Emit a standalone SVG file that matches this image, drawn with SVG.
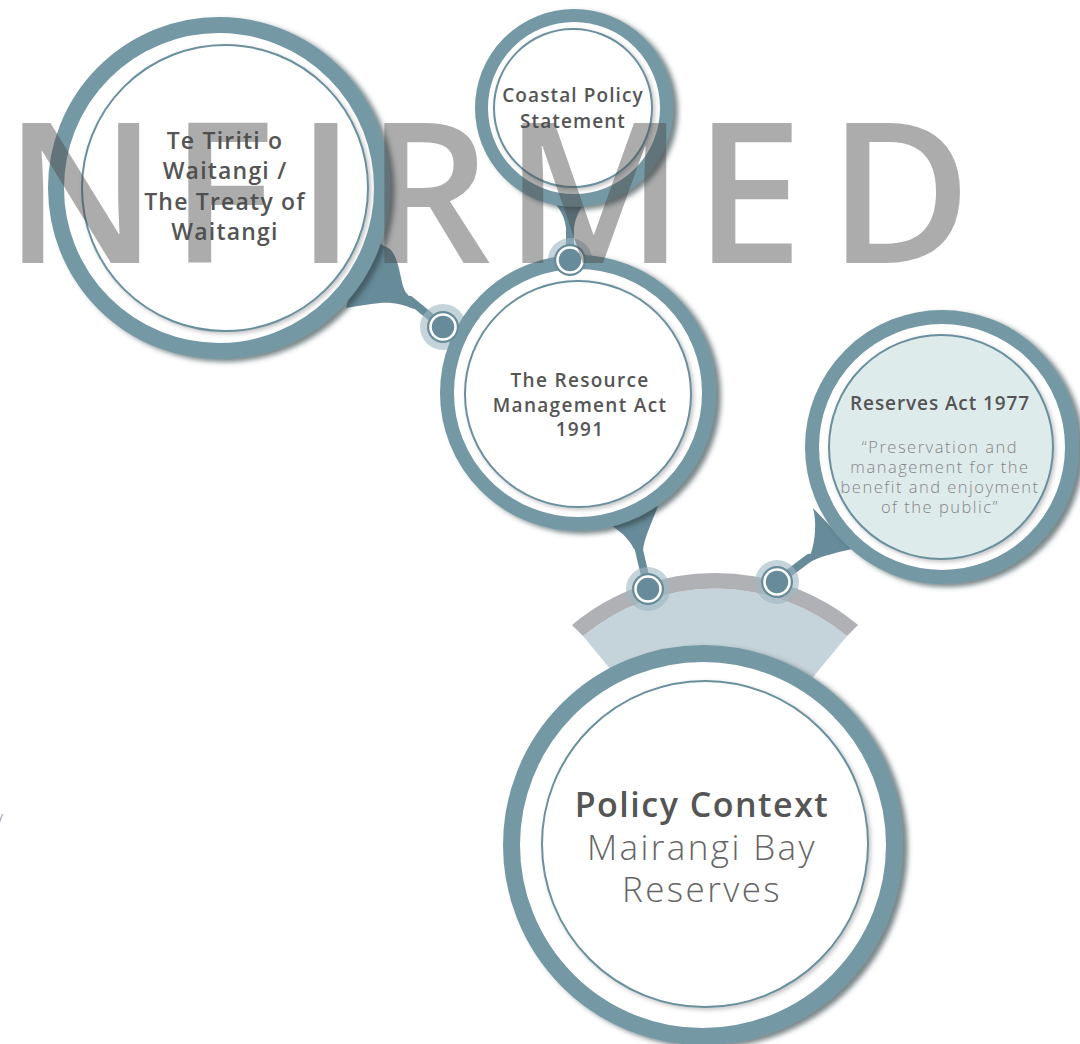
<svg xmlns="http://www.w3.org/2000/svg" width="1080" height="1044" viewBox="0 0 1080 1044">
<defs>
<filter id="sh" x="-20%" y="-20%" width="140%" height="140%">
<feDropShadow dx="5" dy="3" stdDeviation="2.5" flood-color="#33444a" flood-opacity="0.65"/>
</filter>
<filter id="shi" x="-20%" y="-20%" width="140%" height="140%">
<feDropShadow dx="2" dy="2" stdDeviation="2" flood-color="#555" flood-opacity="0.35"/>
</filter>
<style>
.ring{fill:#fff;stroke:#7499a4;filter:url(#sh)}
.inner{fill:#fff;stroke:#6a909e;stroke-width:2;filter:url(#shi)}
.blob{fill:#678b99}
.stem{stroke:#678b99;stroke-width:8;stroke-linecap:round;fill:none}
.halo{fill:#9fb8c2;opacity:0.6}
.dot{fill:#678b99}
.dotr{fill:none;stroke:#fff;stroke-width:2.6}
.t{font-family:"Open Sans","Liberation Sans",sans-serif;font-weight:600;fill:#555;text-anchor:middle}
.l{font-family:"Open Sans","Liberation Sans",sans-serif;font-weight:300;fill:#858585;text-anchor:middle}
.wm{font-family:"Open Sans","Liberation Sans",sans-serif;font-weight:600;font-size:196px;fill:#484848;opacity:0.45}
</style>
</defs>
<rect width="1080" height="1044" fill="#fff"/>
<g id="band">
<path d="M583,636 A207.5,207.5 0 0 1 847,636 L715,796 Z" fill="#c5d3da"/>
<path d="M572,625 A222.5,222.5 0 0 1 858,625 L847,636 A207.5,207.5 0 0 0 583,636 Z" fill="#b0b1b5"/>
</g>
<g id="connectors">
<path class="blob" d="M366,236 L390,249 C399,258 400,278 404,289 C407,296 413,299 419,303 L414,309 C404,305 394,302 380,303 C368,304 358,306 346,308 Z"/>
<line class="stem" x1="410" y1="300" x2="443" y2="327"/>
<path class="blob" d="M546,193 C556,204 564,212 566,228 L574,228 C576,213 583,205 592,192 Z"/>
<line class="stem" x1="570" y1="226" x2="570" y2="258"/>
<path class="blob" d="M598,516 C612,526 627,534 634,549 L643,550 C644,539 650,527 658,506 Z"/>
<line class="stem" x1="638" y1="546" x2="648" y2="588"/>
<path class="blob" d="M813,508 C817,522 815,542 811,553 L804,563 L812,561 C822,556 835,553 852,549 Z"/>
<line class="stem" x1="809" y1="558" x2="777" y2="582"/>
<circle class="halo" cx="443" cy="327" r="23"/>
<circle class="halo" cx="570" cy="260" r="22"/>
<circle class="halo" cx="648" cy="589" r="22"/>
<circle class="halo" cx="777" cy="582" r="22"/>
</g>
<g id="te-tiriti">
<circle class="ring" cx="219" cy="188" r="163" stroke-width="16"/>
<circle class="inner" cx="225" cy="188" r="143"/>
<text class="t" font-size="23" letter-spacing="1.2"><tspan x="225" y="149">Te Tiriti o</tspan><tspan x="225" y="179">Waitangi /</tspan><tspan x="225" y="210">The Treaty of</tspan><tspan x="225" y="240">Waitangi</tspan></text>
</g>
<g id="coastal">
<circle class="ring" cx="574" cy="108" r="92.5" stroke-width="13"/>
<circle class="inner" cx="573" cy="108" r="79"/>
<text class="t" font-size="19" letter-spacing="1.1"><tspan x="573" y="102">Coastal Policy</tspan><tspan x="573" y="128">Statement</tspan></text>
</g>
<g id="rma">
<circle class="ring" cx="578" cy="393" r="131" stroke-width="14"/>
<circle class="inner" cx="578" cy="394" r="113"/>
<text class="t" font-size="19" letter-spacing="1.3"><tspan x="580" y="387">The Resource</tspan><tspan x="580" y="412">Management Act</tspan><tspan x="580" y="436">1991</tspan></text>
</g>
<g id="reserves">
<circle class="ring" cx="942" cy="447" r="130" stroke-width="14"/>
<circle class="inner" cx="941" cy="447" r="112" style="fill:#deebeb"/>
<text class="t" font-size="19" letter-spacing="0.9" x="940" y="410">Reserves Act 1977</text>
<text class="l" font-size="16.5" letter-spacing="1.5"><tspan x="940" y="453">“Preservation and</tspan><tspan x="940" y="473">management for the</tspan><tspan x="940" y="493">benefit and enjoyment</tspan><tspan x="940" y="513">of the public”</tspan></text>
</g>
<g id="policy-context">
<circle class="ring" cx="703" cy="845" r="191.5" stroke-width="17"/>
<circle class="inner" cx="705" cy="844" r="163"/>
<text class="t" font-size="34" letter-spacing="1.5" x="702" y="817">Policy Context</text>
<text class="l" font-size="35" letter-spacing="2.4" style="fill:#666"><tspan x="702" y="860">Mairangi Bay</tspan><tspan x="702" y="902">Reserves</tspan></text>
</g>
<g id="nodes">
<circle class="dot" cx="443" cy="327" r="16"/><circle class="dotr" cx="443" cy="327" r="12.5"/>
<circle class="dot" cx="570" cy="260" r="16"/><circle class="dotr" cx="570" cy="260" r="12.5"/>
<circle class="dot" cx="648" cy="589" r="16"/><circle class="dotr" cx="648" cy="589" r="12.5"/>
<circle class="dot" cx="777" cy="582" r="16"/><circle class="dotr" cx="777" cy="582" r="12.5"/>
</g>
<text x="-3" y="827" font-family="Open Sans, sans-serif" font-weight="300" font-size="18" fill="#888">/</text>
<text class="wm" y="263"><tspan x="4">N</tspan><tspan x="170">F</tspan><tspan x="296">I</tspan><tspan x="366">R</tspan><tspan x="504">M</tspan><tspan x="694">E</tspan><tspan x="828">D</tspan></text>
</svg>
